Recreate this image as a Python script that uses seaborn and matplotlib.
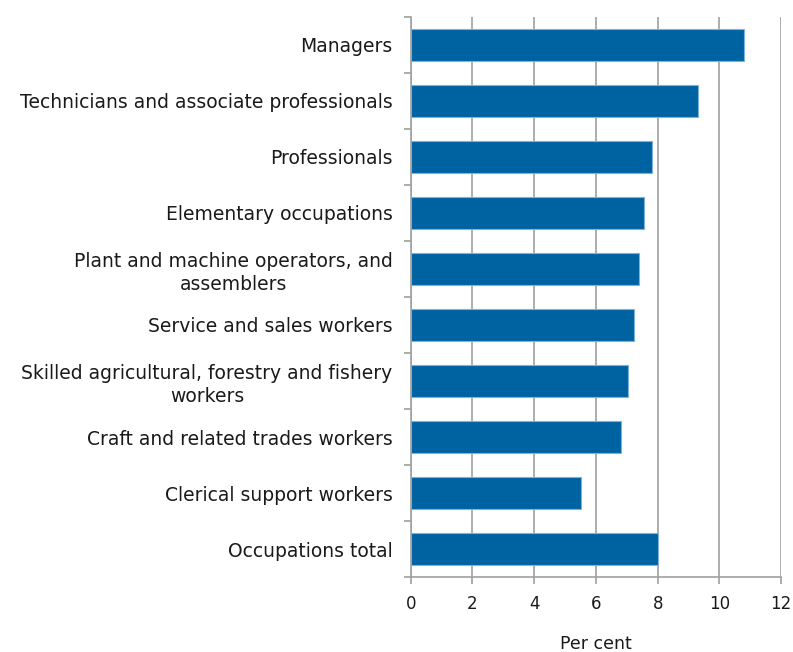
import numpy as np
import seaborn as sns
from matplotlib import pyplot as plt
from matplotlib.ticker import FixedLocator

occupations = [
    "Managers",
    "Technicians and associate professionals",
    "Professionals",
    "Elementary occupations",
    "Plant and machine operators, and\nassemblers",
    "Service and sales workers",
    "Skilled agricultural, forestry and fishery\nworkers",
    "Craft and related trades workers",
    "Clerical support workers",
    "Occupations total",
]
percent = [10.8, 9.32, 7.82, 7.56, 7.39, 7.24, 7.04, 6.82, 5.52, 8.01]
x_ticks = [0, 2, 4, 6, 8, 10, 12]

sns.set_style("white")
plt.rcParams["font.family"] = ["DejaVu Sans"]

fig = plt.figure(figsize=(7.93, 6.52), dpi=100)
ax = fig.add_axes([0.518, 0.115, 0.467, 0.859])

sns.barplot(x=percent, y=occupations, orient="h", color="#0063a1",
            saturation=1, width=0.57, edgecolor="#7fb2d8", linewidth=0.8, ax=ax)

grid_col = "#a0a0a0"
txt_col = "#1a1a1a"
ax.set_xlim(0, 12)
ax.set_ylim(9.5, -0.5)
ax.set_xticks(x_ticks)
ax.set_xticklabels([str(t) for t in x_ticks])
ax.xaxis.grid(True, color=grid_col, linewidth=1.2)
ax.set_axisbelow(True)

for side in ["top", "right"]:
    ax.spines[side].set_visible(False)
for side in ["left", "bottom"]:
    ax.spines[side].set_color(grid_col)
    ax.spines[side].set_linewidth(1.2)

ax.tick_params(axis="x", which="major", bottom=True, direction="out", length=5,
               width=1.2, color=grid_col, labelsize=12, labelcolor=txt_col, pad=8)
ax.tick_params(axis="y", which="major", left=True, length=0, labelsize=13.5,
               labelcolor=txt_col, pad=13)
ax.yaxis.set_minor_locator(FixedLocator(np.arange(-0.5, 10, 1)))
ax.tick_params(axis="y", which="minor", left=True, direction="out", length=5,
               width=1.2, color=grid_col)
for lab in ax.get_yticklabels():
    lab.set_multialignment("center")
    lab.set_linespacing(1.25)

ax.set_ylabel("")
ax.set_xlabel("Per cent", fontsize=12.5, color=txt_col, labelpad=16)

fig.savefig("out.png", dpi=100)
